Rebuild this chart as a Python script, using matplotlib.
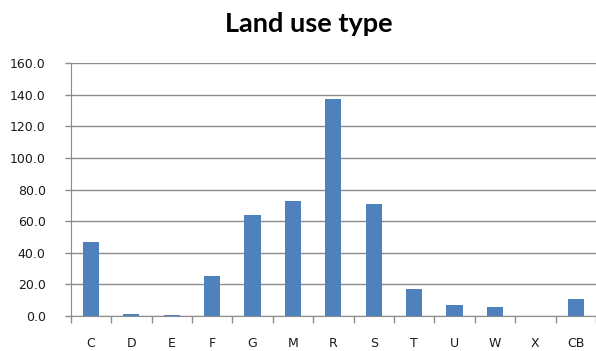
import numpy as np
import matplotlib.pyplot as plt

# 土地利用类型及数值
categories = ['C', 'D', 'E', 'F', 'G', 'M', 'R', 'S', 'T', 'U', 'W', 'X', 'CB']
values = [47.0, 1.0, 0.8, 25.1, 63.8, 72.8, 137.2, 70.7, 16.9, 7.0, 5.7, 0.0, 10.8]
y_ticks = [0, 20, 40, 60, 80, 100, 120, 140, 160]

BAR_COLOR = '#4F81BD'
GRID_COLOR = '#8C8C8C'

fig = plt.figure(figsize=(5.96, 3.51), dpi=100)
ax = fig.add_axes([0.1186, 0.0997, 0.8814, 0.72])

x = np.arange(len(categories))
ax.bar(x, values, width=0.4, color=BAR_COLOR, zorder=3)

ax.set_xlim(-0.5, len(categories) - 0.5)
ax.set_ylim(0, 160)

# y轴刻度与网格线
ax.set_yticks(y_ticks)
ax.set_yticklabels([f'{v:.1f}' for v in y_ticks], fontsize=9, color='#1a1a1a')
ax.yaxis.grid(True, color=GRID_COLOR, linewidth=1.0, zorder=0)
ax.tick_params(axis='y', length=4, width=1, color=GRID_COLOR, pad=14)

# x轴：类别标签居中，刻度线在类别边界
ax.set_xticks(x)
ax.set_xticklabels(categories, fontsize=9, color='#1a1a1a')
ax.set_xticks(np.arange(len(categories) + 1) - 0.5, minor=True)
ax.tick_params(axis='x', which='major', length=0, pad=15)
ax.tick_params(axis='x', which='minor', length=5, width=1, color=GRID_COLOR)

for side in ['top', 'right']:
    ax.spines[side].set_visible(False)
ax.spines['left'].set_color(GRID_COLOR)
ax.spines['bottom'].set_color(GRID_COLOR)

fig.text(0.5176, 0.9097, 'Land use type', ha='center', va='baseline',
         fontsize=19.5, fontweight='bold', family=['Lato', 'DejaVu Sans'])

fig.savefig('out.png', dpi=100)
